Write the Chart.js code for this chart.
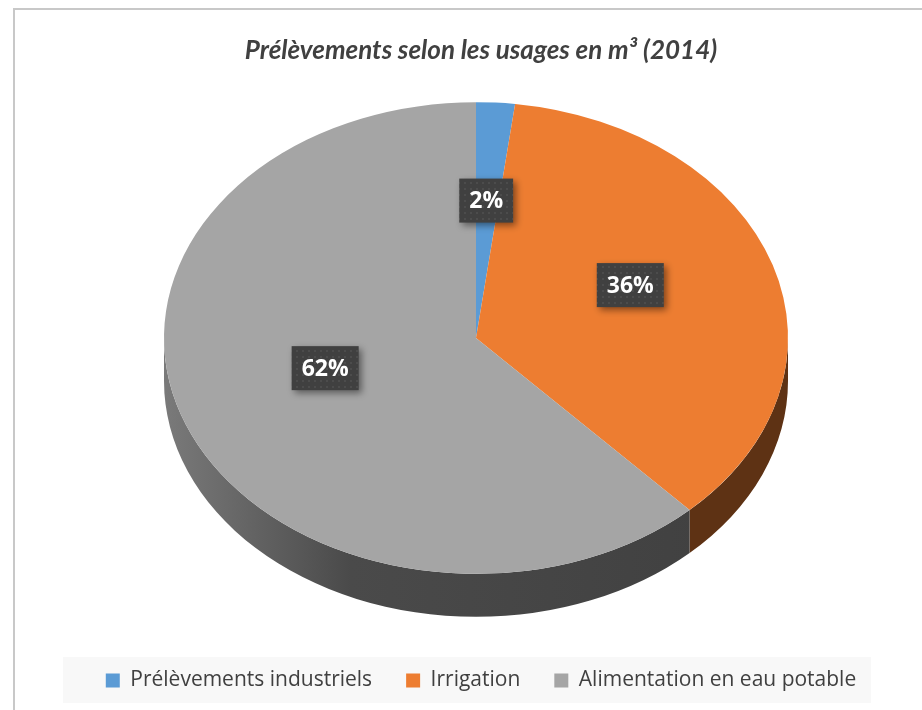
<!DOCTYPE html>
<html>
<head>
<meta charset="utf-8">
<script src="https://cdn.jsdelivr.net/npm/chart.js@4.4.1/dist/chart.umd.min.js"></script>
<style>
  html, body { margin: 0; padding: 0; background: #fff; }
  #wrap { position: relative; width: 922px; height: 710px; overflow: hidden; }
  #frame { position: absolute; left: 13px; top: 8px; width: 1000px; height: 1000px;
           border-left: 2px solid #c8c8c8; border-top: 2px solid #c8c8c8; }
  canvas { position: absolute; left: 0; top: 0; }
</style>
</head>
<body>
<div id="wrap">
  <div id="frame"></div>
  <canvas id="pie" width="922" height="710"></canvas>
</div>
<script>
// data
const labels = ['Prélèvements industriels', 'Irrigation', 'Alimentation en eau potable'];
const shares = [2, 36, 62];
const topColors = ['#5b9bd5', '#ed7d31', '#a5a5a5'];
const sideColors = ['#2f5f8c', '#5e3214', '#444444'];

// fake 3d look
const PIE_CX = 476, PIE_CY = 338, RADIUS = 312, TILT = 0.756, DEPTH = 43;
const LABEL_R = 0.52, LABEL_DY = -15;

function dotPattern(ctx) {
  const c = document.createElement('canvas');
  c.width = 6; c.height = 6;
  const p = c.getContext('2d');
  p.fillStyle = '#404040';
  p.fillRect(0, 0, 6, 6);
  p.fillStyle = '#4c4c4c';
  p.fillRect(2, 2, 2, 2);
  return ctx.createPattern(c, 'repeat');
}

const pie3d = {
  id: 'pie3d',
  beforeDraw(chart) {
    const ctx = chart.ctx;
    ctx.save();
    ctx.fillStyle = '#f8f8f8';
    ctx.fillRect(63, 657, 808, 46);
    ctx.restore();
  },
  beforeDatasetsDraw(chart) {
    const ctx = chart.ctx;
    const arcs = chart.getDatasetMeta(0).data;
    // side walls, front half only
    arcs.forEach((arc, i) => {
      const r = arc.outerRadius;
      [0, 2 * Math.PI].forEach(base => {
        const a0 = Math.max(arc.startAngle, base);
        const a1 = Math.min(arc.endAngle, base + Math.PI);
        if (a1 <= a0) return;
        ctx.save();
        ctx.beginPath();
        ctx.ellipse(PIE_CX, PIE_CY, r, r * TILT, 0, a0, a1);
        ctx.ellipse(PIE_CX, PIE_CY + DEPTH, r, r * TILT, 0, a1, a0, true);
        ctx.closePath();
        if (i === 2) {
          const g = ctx.createLinearGradient(PIE_CX - r, 0, PIE_CX + r, 0);
          g.addColorStop(0, '#7a7a7a');
          g.addColorStop(0.3, '#4a4a4a');
          g.addColorStop(1, '#3f3f3f');
          ctx.fillStyle = g;
        } else {
          ctx.fillStyle = sideColors[i];
        }
        ctx.fill();
        ctx.restore();
      });
    });
    // squash the top face
    const c = arcs[0];
    ctx.save();
    ctx.translate(PIE_CX, PIE_CY);
    ctx.scale(1, TILT);
    ctx.translate(-c.x, -c.y);
  },
  afterDatasetsDraw(chart) {
    const ctx = chart.ctx;
    ctx.restore();
    const arcs = chart.getDatasetMeta(0).data;
    const total = shares.reduce((a, b) => a + b, 0);
    const pattern = dotPattern(ctx);
    ctx.save();
    ctx.font = 'bold 23px "Open Sans"';
    ctx.textAlign = 'center';
    ctx.textBaseline = 'middle';
    arcs.forEach((arc, i) => {
      const mid = (arc.startAngle + arc.endAngle) / 2;
      const r = arc.outerRadius * LABEL_R;
      const x = PIE_CX + Math.cos(mid) * r;
      const y = PIE_CY + Math.sin(mid) * r * TILT + LABEL_DY;
      const txt = Math.round(shares[i] / total * 100) + '%';
      const w = ctx.measureText(txt).width + 20;
      const h = 44;
      ctx.save();
      ctx.shadowColor = 'rgba(0,0,0,0.45)';
      ctx.shadowBlur = 7;
      ctx.shadowOffsetX = 3;
      ctx.shadowOffsetY = 3;
      ctx.fillStyle = pattern;
      ctx.fillRect(x - w / 2, y - h / 2, w, h);
      ctx.restore();
      ctx.fillStyle = '#ffffff';
      ctx.fillText(txt, x, y + 1);
    });
    ctx.restore();
  }
};

new Chart(document.getElementById('pie'), {
  type: 'pie',
  data: {
    labels: labels,
    datasets: [{
      data: shares,
      backgroundColor: topColors,
      borderWidth: 0,
      radius: RADIUS,
      clip: false
    }]
  },
  options: {
    responsive: false,
    animation: false,
    layout: { padding: { left: 40, right: 0, top: 0, bottom: 9 } },
    plugins: {
      title: {
        display: true,
        text: 'Prélèvements selon les usages en m³ (2014)',
        color: '#404040',
        font: { family: 'Lato', size: 26, style: 'italic', weight: 'bold' },
        padding: { top: 35, bottom: 10 },
        align: 'center'
      },
      legend: {
        position: 'bottom',
        labels: {
          color: '#404040',
          font: { family: 'Open Sans', size: 21 },
          boxWidth: 14,
          boxHeight: 14,
          padding: 34
        }
      },
      tooltip: { enabled: false }
    }
  },
  plugins: [pie3d]
});
</script>
</body>
</html>
